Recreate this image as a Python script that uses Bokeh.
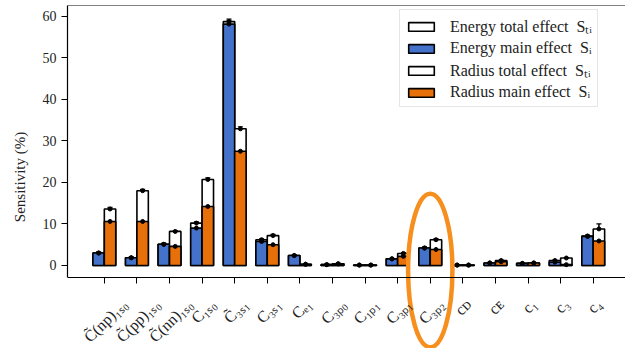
import numpy as np
from bokeh.plotting import figure
from bokeh.models import (FixedTicker, Range1d, Legend, LegendItem, LinearAxis,
                          Whisker, ColumnDataSource, TeeHead)
from bokeh.embed import file_html
from bokeh.resources import INLINE

# ---------------- data ----------------
labels = ["C̃(np)₁ₛ₀", "C̃(pp)₁ₛ₀", "C̃(nn)₁ₛ₀", "C₁ₛ₀", "C̃₃ₛ₁", "C₃ₛ₁", "Cₑ₁",
          "C₃ₚ₀", "C₁ₚ₁", "C₃ₚ₁", "C₃ₚ₂", "cᴅ", "cᴇ", "c₁", "c₃", "c₄"]
energy_main  = [3.0, 1.85, 5.1, 9.0, 58.1, 5.8, 2.4, 0.2, 0.1, 1.6, 4.2, 0.1, 0.6, 0.5, 0.8, 7.0]
energy_total = [3.0, 1.85, 5.1, 10.2, 58.7, 6.2, 2.4, 0.2, 0.1, 1.6, 4.2, 0.1, 0.6, 0.5, 1.2, 7.1]
radius_main  = [10.6, 10.6, 4.6, 14.2, 27.5, 5.0, 0.3, 0.4, 0.1, 2.2, 3.85, 0.1, 0.9, 0.6, 0.2, 5.9]
radius_total = [13.6, 18.0, 8.2, 20.7, 32.9, 7.2, 0.3, 0.4, 0.1, 2.9, 6.2, 0.1, 1.2, 0.6, 1.8, 8.8]
energy_main_err  = [0.2, 0.2, 0.2, 0.4, 0.8, 0.3, 0.1, 0.1, 0.1, 0.1, 0.2, 0.1, 0.1, 0.1, 0.1, 0.2]
energy_total_err = [0.2, 0.2, 0.2, 0.3, 0.6, 0.2, 0.1, 0.1, 0.1, 0.1, 0.2, 0.1, 0.1, 0.1, 0.1, 0.2]
radius_main_err  = [0.4, 0.3, 0.2, 0.5, 0.6, 0.3, 0.1, 0.1, 0.1, 0.2, 0.3, 0.1, 0.1, 0.1, 0.1, 0.3]
radius_total_err = [0.4, 0.3, 0.2, 0.4, 0.5, 0.3, 0.1, 0.1, 0.1, 0.2, 0.3, 0.1, 0.1, 0.1, 0.1, 1.2]
legend_labels = ["Energy total effect  Sₜᵢ", "Energy main effect  Sᵢ",
                 "Radius total effect  Sₜᵢ", "Radius main effect  Sᵢ"]
y_ticks = [0, 10, 20, 30, 40, 50, 60]
highlight_index = 10

BLUE = "#4472CA"
ORANGE = "#E8700A"
RING = "#F78F1E"
FONT = "Liberation Serif"
LABEL_PX = 16
bw = 0.35
Y_AXIS_BOTTOM = -2.89   # where the x axis sits (axes box bottom)
Y_TOP = 62.58
X_LO, X_HI = -1.13, 15.99
FRAME_W = 625 - 67


def text_width_em(s):
    """rough width (em) of a label, used only to centre rotated labels under ticks"""
    w = 0.0
    for ch in s:
        if ch == "\u0303":
            continue
        if ch in "()":
            w += 0.33
        elif ch.isupper():
            w += 0.67
        elif ch in "abcdefghijklmnopqrstuvwxyz":
            w += 0.5
        else:  # subscripts / small capitals
            w += 0.36
    return w


px_per_unit = FRAME_W / (X_HI - X_LO)
label_shift = [(0.354 * text_width_em(s) * LABEL_PX + 0.05 * LABEL_PX) / px_per_unit for s in labels]

idx = np.arange(len(labels))
src = ColumnDataSource(dict(
    xe=idx - bw / 2, xr=idx + bw / 2,
    em=energy_main, et=energy_total, rm=radius_main, rt=radius_total,
    em_lo=np.array(energy_main) - np.array(energy_main_err),
    em_hi=np.array(energy_main) + np.array(energy_main_err),
    et_lo=np.array(energy_total) - np.array(energy_total_err),
    et_hi=np.array(energy_total) + np.array(energy_total_err),
    rm_lo=np.array(radius_main) - np.array(radius_main_err),
    rm_hi=np.array(radius_main) + np.array(radius_main_err),
    rt_lo=np.array(radius_total) - np.array(radius_total_err),
    rt_hi=np.array(radius_total) + np.array(radius_total_err),
))

p = figure(width=625, height=348, output_backend="svg", toolbar_location=None,
           x_range=Range1d(X_LO, X_HI), y_range=Range1d(-19.98, Y_TOP),
           min_border_left=67, min_border_right=0, min_border_top=5, min_border_bottom=0,
           x_axis_location=None)
p.background_fill_color = "white"
p.border_fill_color = "white"
p.outline_line_color = None
p.xgrid.visible = False
p.ygrid.visible = False

common = dict(width=bw, bottom=0, line_color="black", line_width=1.6, source=src)
r_et = p.vbar(x="xe", top="et", fill_color="white", **common)
r_em = p.vbar(x="xe", top="em", fill_color=BLUE, **common)
r_rt = p.vbar(x="xr", top="rt", fill_color="white", **common)
r_rm = p.vbar(x="xr", top="rm", fill_color=ORANGE, **common)

for base, lo, hi in [("xe", "em_lo", "em_hi"), ("xe", "et_lo", "et_hi"),
                     ("xr", "rm_lo", "rm_hi"), ("xr", "rt_lo", "rt_hi")]:
    w = Whisker(source=src, base=base, lower=lo, upper=hi, line_color="black", line_width=1.5,
                upper_head=TeeHead(size=5, line_color="black", line_width=1.2),
                lower_head=TeeHead(size=5, line_color="black", line_width=1.2))
    p.add_layout(w)
for xcol, ycol in [("xe", "em"), ("xe", "et"), ("xr", "rm"), ("xr", "rt")]:
    p.scatter(x=xcol, y=ycol, source=src, size=4, color="black")

# ---- x axis: tick marks (fixed at the bottom of the axes box) ----
xaxis = LinearAxis(fixed_location=Y_AXIS_BOTTOM, ticker=FixedTicker(ticks=list(idx)),
                   major_tick_in=0, major_tick_out=6, minor_tick_line_color=None,
                   axis_line_color="black", axis_line_width=1.2,
                   major_tick_line_color="black", major_label_text_color=None)
p.add_layout(xaxis, "below")
# ---- x axis: rotated labels, centred under the ticks ----
label_ticks = [float(i + s) for i, s in zip(idx, label_shift)]
xlab = LinearAxis(fixed_location=Y_AXIS_BOTTOM, ticker=FixedTicker(ticks=label_ticks),
                  major_label_overrides={t: lab for t, lab in zip(label_ticks, labels)},
                  major_label_orientation=np.pi / 4, major_tick_line_color=None,
                  minor_tick_line_color=None, axis_line_color=None,
                  major_tick_out=6, major_label_standoff=18,
                  major_label_text_font=FONT, major_label_text_font_size=f"{LABEL_PX}px",
                  major_label_text_color="#222222")
p.add_layout(xlab, "below")
# top edge of the axes box
top = LinearAxis(fixed_location=Y_TOP, ticker=FixedTicker(ticks=[]),
                 axis_line_color="black", axis_line_width=1.2,
                 major_tick_line_color=None, minor_tick_line_color=None)
p.add_layout(top, "above")

# ---- y axis ----
ya = p.yaxis[0]
ya.ticker = FixedTicker(ticks=y_ticks)
ya.bounds = (Y_AXIS_BOTTOM, Y_TOP)
ya.major_tick_in = 0
ya.major_tick_out = 6
ya.minor_tick_line_color = None
ya.axis_line_color = "black"
ya.axis_line_width = 1.2
ya.major_tick_line_color = "black"
ya.major_label_text_font = FONT
ya.major_label_text_color = "#222222"
ya.major_label_text_font_size = "14px"
ya.axis_label = "Sensitivity (%)"
ya.axis_label_text_font = FONT
ya.axis_label_text_font_style = "normal"
ya.axis_label_text_font_size = "15px"
ya.axis_label_text_color = "#222222"
ya.axis_label_standoff = 12

legend = Legend(items=[LegendItem(label=legend_labels[0], renderers=[r_et]),
                       LegendItem(label=legend_labels[1], renderers=[r_em]),
                       LegendItem(label=legend_labels[2], renderers=[r_rt]),
                       LegendItem(label=legend_labels[3], renderers=[r_rm])],
                location=(332, 241))
legend.glyph_width = 32
legend.glyph_height = 11
legend.label_standoff = 13
legend.label_text_font = FONT
legend.label_text_font_size = "16px"
legend.label_text_color = "#222222"
legend.label_height = 16
legend.spacing = 2
legend.padding = 5
legend.margin = 0
legend.border_line_color = "#cccccc"
legend.border_line_width = 1
legend.background_fill_alpha = 0.9
p.add_layout(legend)

# highlight ring around C3P2
p.ellipse(x=highlight_index, y=-1.2, width=1.36, height=37.0,
          fill_color=None, line_color=RING, line_width=4.5)

open("out.html", "w").write(file_html(p, INLINE))
